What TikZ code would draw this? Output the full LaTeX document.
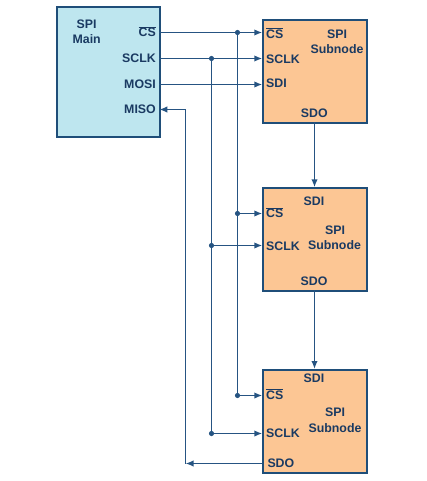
\documentclass[tikz,border=0pt]{standalone}
\usepackage{fontspec}
\setmainfont{Liberation Sans}
\usetikzlibrary{arrows.meta}
\definecolor{mainfill}{RGB}{190,230,239}
\definecolor{subfill}{RGB}{252,198,148}
\definecolor{edge}{RGB}{31,78,121}
\definecolor{wire}{RGB}{38,84,130}
\definecolor{txt}{RGB}{26,58,98}
\tikzset{
  blk/.style={draw=edge,line width=2bp,inner sep=0pt,anchor=north west},
  lbl/.style={inner sep=0pt,text height=8.9pt,text depth=0pt,text=txt,font=\bfseries\fontsize{12.4}{14}\selectfont},
  wirel/.style={draw=wire,line width=1.8bp},
  arr/.style={wirel,-{Latex[length=8bp,width=6.5bp]}},
  dotn/.style={circle,fill=wire,inner sep=0pt,minimum size=5.2bp}
}
\newcommand{\ncs}{$\overline{\mbox{CS}}$}
\begin{document}
\begin{tikzpicture}[x=1bp,y=-1bp]
\useasboundingbox (0,0) rectangle (426,481);
% blocks
\node[blk,fill=mainfill,minimum width=103.3bp,minimum height=129.7bp] (main) at (56,6) {};
\node[blk,fill=subfill,minimum width=103.4bp,minimum height=103bp] (s1) at (262.3,19.3) {};
\node[blk,fill=subfill,minimum width=103.7bp,minimum height=102.7bp] (s2) at (262.3,187.3) {};
\node[blk,fill=subfill,minimum width=103.7bp,minimum height=102.7bp] (s3) at (262.3,369) {};
% main labels
\node[lbl] (mspi) at (86.7,24.3) {SPI};
\node[lbl] (mmain) at (86.7,39) {Main};
\node[lbl,anchor=east] (mcsl) at (156,32.5) {\ncs};
\node[lbl,anchor=east] (msclkl) at (156,58.5) {SCLK};
\node[lbl,anchor=east] (mmosil) at (156,84.5) {MOSI};
\node[lbl,anchor=east] (mmisol) at (156,109.5) {MISO};
% sub1 labels
\node[lbl,anchor=west] (s1csl) at (266,34) {\ncs};
\node[lbl,anchor=west] (s1sclkl) at (266,59) {SCLK};
\node[lbl,anchor=west] (s1sdil) at (266,83.5) {SDI};
\node[lbl] (s1sdol) at (314.3,112.7) {SDO};
\node[lbl] (s1spi) at (337,34) {SPI};
\node[lbl] (s1sub) at (337,49.3) {Subnode};
% sub2 labels
\node[lbl] (s2sdil) at (314,200.7) {SDI};
\node[lbl,anchor=west] (s2csl) at (266,213.3) {\ncs};
\node[lbl] (s2spi) at (335,230) {SPI};
\node[lbl] (s2sub) at (334.5,245) {Subnode};
\node[lbl,anchor=west] (s2sclkl) at (266,245.7) {SCLK};
\node[lbl] (s2sdol) at (314,280.7) {SDO};
% sub3 labels
\node[lbl] (s3sdil) at (314,378.3) {SDI};
\node[lbl,anchor=west] (s3csl) at (266,395) {\ncs};
\node[lbl] (s3spi) at (335,412.3) {SPI};
\node[lbl] (s3sub) at (335,427.7) {Subnode};
\node[lbl,anchor=west] (s3sclkl) at (266,433.3) {SCLK};
\node[lbl,anchor=west] (s3sdol) at (267.3,463.3) {SDO};
% port coordinates
\coordinate (mcs) at (159.3,32.5);
\coordinate (msclk) at (159.3,58.5);
\coordinate (mmosi) at (159.3,84.5);
\coordinate (mmiso) at (159.3,109.5);
\coordinate (s1cs) at (262.3,32.5);
\coordinate (s1sclk) at (262.3,58.5);
\coordinate (s1sdi) at (262.3,84.5);
\coordinate (s1sdo) at (314.5,122.3);
\coordinate (s2sdi) at (314.5,187.3);
\coordinate (s2sdo) at (314.5,290);
\coordinate (s2cs) at (262.3,213.5);
\coordinate (s2sclk) at (262.3,245.5);
\coordinate (s3sdi) at (314.5,369);
\coordinate (s3cs) at (262.3,395.5);
\coordinate (s3sclk) at (262.3,433.5);
\coordinate (s3sdo) at (262.3,463.5);
\coordinate (ret) at (185.5,463.5);
% junctions
\node[dotn] (jcs1) at (237.5,32.5) {};
\node[dotn] (jcs2) at (237.5,213.5) {};
\node[dotn] (jcs3) at (237.5,395.5) {};
\node[dotn] (jck1) at (211.5,58.5) {};
\node[dotn] (jck2) at (211.5,245.5) {};
\node[dotn] (jck3) at (211.5,433.5) {};
% wires
\draw[arr] (mcs) -- (s1cs);
\draw[arr] (msclk) -- (s1sclk);
\draw[arr] (mmosi) -- (s1sdi);
\draw[wirel] (jcs1.center) -- (jcs3.center);
\draw[wirel] (jck1.center) -- (jck3.center);
\draw[arr] (jcs2.center) -- (s2cs);
\draw[arr] (jck2.center) -- (s2sclk);
\draw[arr] (jcs3.center) -- (s3cs);
\draw[arr] (jck3.center) -- (s3sclk);
\draw[arr] (s1sdo) -- (s2sdi);
\draw[arr] (s2sdo) -- (s3sdi);
\draw[arr] (s3sdo) -- (ret);
\draw[arr] (ret) |- (mmiso);
\end{tikzpicture}
\end{document}
